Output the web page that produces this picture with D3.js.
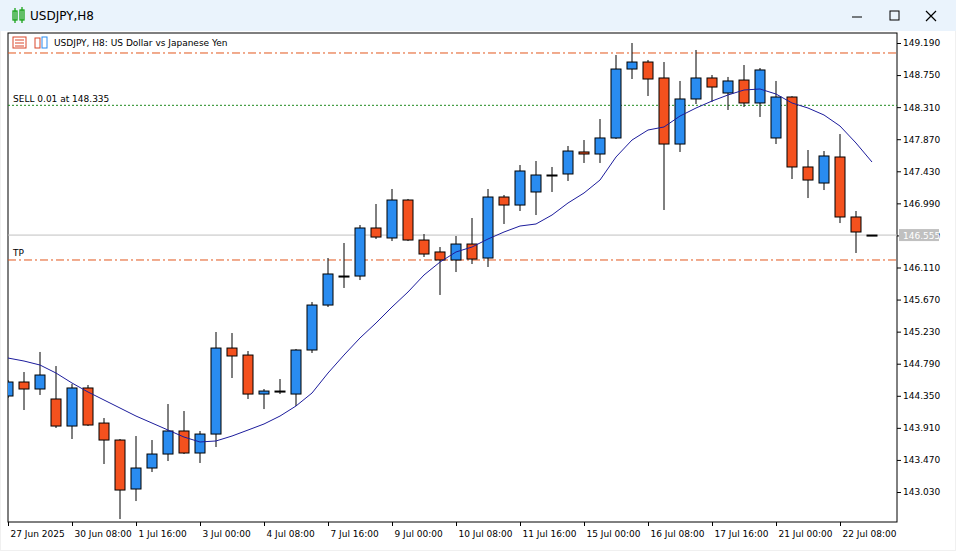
<!DOCTYPE html>
<html lang="en">
<head>
<meta charset="UTF-8"/>
<title>USDJPY,H8</title>
<script src="https://d3js.org/d3.v7.min.js"></script>
<style>
  body { margin:0; background:#fff; font-family:Tahoma,"DejaVu Sans",sans-serif; }
  svg { display:block; }
  text { font-family:Tahoma,"DejaVu Sans",sans-serif; font-size:9px; fill:#000; }
</style>
</head>
<body>
<svg width="956" height="551"></svg>
<script>
// OHLC, one row per H8 bar
const opens  = [144.347,144.539,144.443,144.306,143.935,144.457,143.976,143.743,143.071,143.359,143.551,143.867,143.565,143.825,145.005,144.909,144.374,144.415,144.374,144.978,145.595,145.993,145.993,146.652,146.515,147.036,146.487,146.323,146.213,146.432,146.240,147.077,146.967,147.146,147.379,147.393,147.695,147.667,147.887,148.833,148.929,148.710,147.804,148.422,148.710,148.504,148.682,148.367,147.887,148.449,147.489,147.269,147.626,146.803,146.555];
const highs  = [144.566,144.676,144.951,144.758,144.511,144.498,144.045,143.757,143.798,143.743,144.237,144.141,143.867,145.225,145.211,144.964,144.443,144.580,144.992,145.637,146.240,146.446,146.693,146.981,147.187,147.050,146.569,146.391,146.542,146.789,147.187,147.105,147.516,147.571,147.489,147.777,147.859,148.147,149.025,149.190,148.957,148.929,148.669,149.094,148.751,148.724,148.888,148.847,148.669,148.460,147.722,147.708,147.941,146.885,146.555];
const lows   = [144.319,144.155,144.361,143.908,143.757,143.935,143.414,142.659,142.906,143.304,143.455,143.551,143.428,143.647,144.594,144.306,144.168,144.374,144.210,144.937,145.568,145.829,145.938,146.501,146.473,146.473,146.254,145.733,146.048,146.158,146.117,146.707,146.885,146.830,147.146,147.297,147.544,147.544,147.873,148.696,148.463,146.899,147.695,148.353,148.381,148.271,148.312,148.175,147.804,147.324,147.063,147.173,146.720,146.309,146.555];
const closes = [144.539,144.443,144.635,143.935,144.457,143.949,143.743,143.057,143.359,143.551,143.867,143.565,143.825,145.005,144.896,144.374,144.415,144.415,144.978,145.595,146.021,145.993,146.652,146.528,147.036,146.487,146.295,146.213,146.432,146.226,147.077,146.967,147.434,147.379,147.379,147.708,147.667,147.887,148.833,148.929,148.696,147.804,148.422,148.710,148.586,148.669,148.367,148.820,148.449,147.489,147.310,147.640,146.803,146.597,146.555];
const maVals = [144.868,144.827,144.772,144.662,144.525,144.402,144.292,144.182,144.072,143.976,143.880,143.784,143.716,143.730,143.798,143.880,143.963,144.072,144.210,144.388,144.662,144.909,145.143,145.348,145.568,145.774,146.007,146.185,146.323,146.391,146.501,146.597,146.679,146.707,146.830,146.995,147.132,147.310,147.626,147.859,147.996,148.038,148.188,148.298,148.394,148.477,148.545,148.559,148.490,148.367,148.298,148.202,148.051,147.818,147.557];

const priceTicks = [149.19,148.75,148.31,147.87,147.43,146.99,146.55,146.11,145.67,145.23,144.79,144.35,143.91,143.47,143.03];
const timeLabels = [[0,'27 Jun 2025'],[4,'30 Jun 08:00'],[8,'1 Jul 16:00'],[12,'3 Jul 00:00'],[16,'4 Jul 08:00'],[20,'7 Jul 16:00'],[24,'9 Jul 00:00'],[28,'10 Jul 08:00'],[32,'11 Jul 16:00'],[36,'15 Jul 00:00'],[40,'16 Jul 08:00'],[44,'17 Jul 16:00'],[48,'21 Jul 00:00'],[52,'22 Jul 08:00']];
const slLevel = 149.053, sellLevel = 148.335, tpLevel = 146.213, bid = 146.555;

const svg = d3.select('svg');
const pLeft = 8, pRight = 897, pTop = 33, pBottom = 522;

// window chrome
svg.append('rect').attr('width',956).attr('height',551).attr('fill','#f0f0f0');
svg.append('rect').attr('width',956).attr('height',31).attr('fill','#eaf3fc');
svg.append('rect').attr('x',1).attr('y',31).attr('width',954).attr('height',519).attr('fill','#fff');
const ic = svg.append('g').attr('stroke','#1aa31a').attr('fill','none').attr('stroke-width',1.3);
ic.append('rect').attr('x',13).attr('y',11).attr('width',4).attr('height',9);
ic.append('rect').attr('x',20).attr('y',10).attr('width',4).attr('height',10);
ic.append('line').attr('x1',15).attr('x2',15).attr('y1',8).attr('y2',23);
ic.append('line').attr('x1',22).attr('x2',22).attr('y1',7).attr('y2',23);
svg.append('text').attr('x',30).attr('y',20).style('font-size','12px').text('USDJPY,H8');
svg.append('line').attr('x1',852).attr('x2',862).attr('y1',17).attr('y2',17).attr('stroke','#000');
svg.append('rect').attr('x',890).attr('y',11).attr('width',9).attr('height',9).attr('fill','none').attr('stroke','#000');
svg.append('path').attr('d','M926,11L936,21M936,11L926,21').attr('stroke','#000').attr('stroke-width',1.2);

// chart frame
svg.append('rect').attr('x',pLeft).attr('y',pTop).attr('width',pRight-pLeft).attr('height',pBottom-pTop)
  .attr('fill','#fff').attr('stroke','#000');

const x = d3.scaleLinear().domain([0,54]).range([8,872]);
const y = d3.scaleLinear().domain([149.19,143.03]).range([43,492]);

const plot = svg.append('g');
plot.append('clipPath').attr('id','clip').append('rect')
  .attr('x',pLeft).attr('y',pTop).attr('width',pRight-pLeft).attr('height',pBottom-pTop);
const g = plot.append('g').attr('clip-path','url(#clip)');

// price axis
const yAxis = svg.append('g').attr('transform',`translate(${pRight},0)`)
  .call(d3.axisRight(y).tickValues(priceTicks).tickSize(4).tickFormat(d3.format('.3f')));
yAxis.select('.domain').remove();
yAxis.selectAll('text').attr('x',6).style('font-size','9px');

// time axis
const xAxis = svg.append('g').attr('transform',`translate(0,${pBottom})`)
  .call(d3.axisBottom(x).tickValues(timeLabels.map(d=>d[0])).tickSize(4)
    .tickFormat((d,i)=>timeLabels[i][1]));
xAxis.select('.domain').remove();
xAxis.selectAll('text').attr('text-anchor','start').attr('x',2).attr('dy','0.9em').style('font-size','9px');

// level lines
g.append('line').attr('x1',pLeft).attr('x2',pRight).attr('y1',y(slLevel)).attr('y2',y(slLevel))
  .attr('stroke','#e2571d').attr('stroke-dasharray','8,3,2,3');
g.append('line').attr('x1',pLeft).attr('x2',pRight).attr('y1',y(tpLevel)).attr('y2',y(tpLevel))
  .attr('stroke','#e2571d').attr('stroke-dasharray','8,3,2,3');
g.append('line').attr('x1',pLeft).attr('x2',pRight).attr('y1',y(sellLevel)).attr('y2',y(sellLevel))
  .attr('stroke','#1f8a1f').attr('stroke-dasharray','2,2');
g.append('line').attr('x1',pLeft).attr('x2',pRight).attr('y1',y(bid)).attr('y2',y(bid))
  .attr('stroke','#c0c0c0');
svg.append('rect').attr('x',899).attr('y',y(bid)-6).attr('width',40).attr('height',12).attr('fill','#c0c0c0');
svg.append('text').attr('x',903).attr('y',y(bid)+3.5).style('fill','#fff').text(d3.format('.3f')(bid));

g.append('text').attr('x',13).attr('y',y(sellLevel)-3).text('SELL 0.01 at 148.335');
g.append('text').attr('x',13).attr('y',y(tpLevel)-4).text('TP');

// candles
const idx = d3.range(opens.length);
g.selectAll('.wick').data(idx).join('line')
  .attr('x1',i=>x(i)).attr('x2',i=>x(i))
  .attr('y1',i=>y(highs[i])).attr('y2',i=>y(lows[i]))
  .attr('stroke','#000');
g.selectAll('.body').data(idx).join('rect')
  .attr('x',i=>x(i)-5).attr('width',10)
  .attr('y',i=>y(Math.max(opens[i],closes[i])))
  .attr('height',i=>Math.max(1,Math.abs(y(opens[i])-y(closes[i]))))
  .attr('fill',i=>closes[i]>opens[i]?'#2a8cf0':(closes[i]<opens[i]?'#f4511e':'#000'))
  .attr('stroke','#000').attr('stroke-width',1);

// moving average
g.append('path').datum(idx)
  .attr('d',d3.line().x(i=>x(i)).y(i=>y(maVals[i])))
  .attr('fill','none').attr('stroke','#1c1c9c').attr('stroke-width',1);

// header
svg.append('rect').attr('x',9).attr('y',34).attr('width',230).attr('height',16).attr('fill','#fff');
const h1 = svg.append('g').attr('stroke','#d9462a').attr('fill','none');
h1.append('rect').attr('x',13).attr('y',37).attr('width',13).attr('height',11);
[40,43,46].forEach(v=>h1.append('line').attr('x1',15).attr('x2',24).attr('y1',v).attr('y2',v));
const h2 = svg.append('g').attr('fill','none');
h2.append('rect').attr('x',35).attr('y',38).attr('width',5).attr('height',10).attr('stroke','#d9462a');
h2.append('rect').attr('x',42).attr('y',37).attr('width',5).attr('height',11).attr('stroke','#2a8cf0');
svg.append('text').attr('x',54).attr('y',46).text('USDJPY, H8:  US Dollar vs Japanese Yen');
</script>
</body>
</html>
